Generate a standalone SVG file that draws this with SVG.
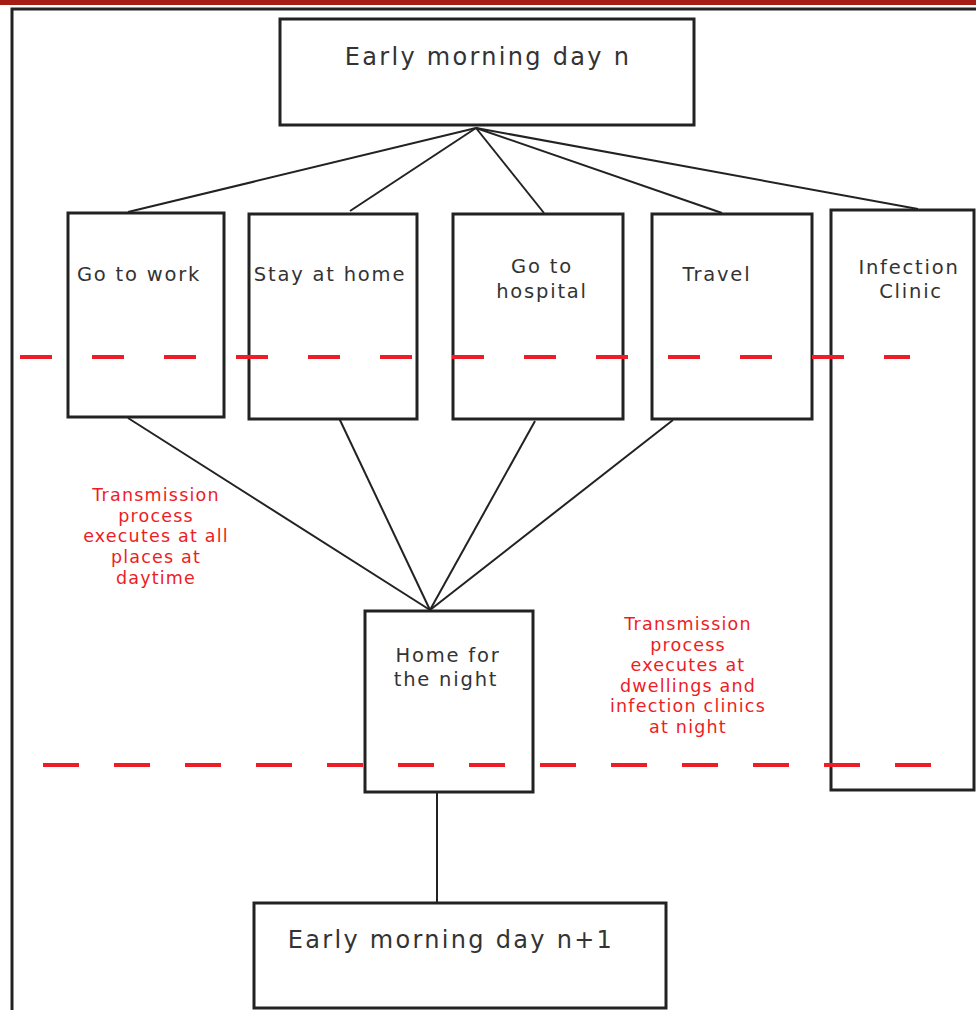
<svg xmlns="http://www.w3.org/2000/svg" width="976" height="1010" viewBox="0 0 976 1010">
  <style>
    .box { fill: #fff; stroke: #222; stroke-width: 3; }
    .lbl { font-family: "DejaVu Sans", Verdana, sans-serif; fill: #333; text-anchor: middle; }
    .big { font-size: 24px; letter-spacing: 2.3px; }
    .mid { font-size: 19.5px; letter-spacing: 1.8px; }
    .note { font-family: "DejaVu Sans", Verdana, sans-serif; font-size: 17.5px; letter-spacing: 1.2px; fill: #ee1c25; text-anchor: middle; }
    .link { fill: none; stroke: #222; stroke-width: 2; }
    .phase { fill: none; stroke: #ee1c25; stroke-width: 4; }
  </style>

  <rect x="0" y="0" width="976" height="1010" fill="#fff"/>
  <!-- header band and page frame -->
  <rect x="0" y="0" width="976" height="5" fill="#a51b16"/>
  <path d="M12 1010 V9 H976" fill="none" stroke="#222" stroke-width="3"/>

  <g id="connectors">
    <line class="link" x1="476" y1="128" x2="128" y2="212"/>
    <line class="link" x1="476" y1="128" x2="350" y2="211"/>
    <line class="link" x1="476" y1="128" x2="544" y2="213"/>
    <line class="link" x1="476" y1="128" x2="722" y2="213"/>
    <line class="link" x1="476" y1="128" x2="918" y2="209"/>
    <line class="link" x1="128" y1="418" x2="430" y2="610"/>
    <line class="link" x1="339" y1="418" x2="430" y2="610"/>
    <line class="link" x1="535" y1="421" x2="430" y2="610"/>
    <line class="link" x1="673" y1="420" x2="430" y2="610"/>
    <line class="link" x1="437" y1="792" x2="437" y2="903"/>
  </g>

  <g id="day-start">
    <rect class="box" x="280" y="19" width="414" height="106"/>
    <text class="lbl big" x="488" y="65">Early morning day n</text>
  </g>

  <g id="work">
    <rect class="box" x="68" y="213" width="156" height="204"/>
    <text class="lbl mid" x="139" y="281">Go to work</text>
  </g>

  <g id="home">
    <rect class="box" x="249" y="214" width="168" height="205"/>
    <text class="lbl mid" x="330" y="281">Stay at home</text>
  </g>

  <g id="hospital">
    <rect class="box" x="453" y="214" width="170" height="205"/>
    <text class="lbl mid" x="542" y="273">Go to</text>
    <text class="lbl mid" x="542" y="298">hospital</text>
  </g>

  <g id="travel">
    <rect class="box" x="652" y="214" width="160" height="205"/>
    <text class="lbl mid" x="717" y="281">Travel</text>
  </g>

  <g id="clinic">
    <rect class="box" x="831" y="210" width="143" height="580"/>
    <text class="lbl mid" x="909" y="274">Infection</text>
    <text class="lbl mid" x="911" y="298">Clinic</text>
  </g>

  <g id="night">
    <rect class="box" x="365" y="611" width="168" height="181"/>
    <text class="lbl mid" x="448" y="662">Home for</text>
    <text class="lbl mid" x="446" y="686">the night</text>
  </g>

  <g id="day-next">
    <rect class="box" x="254" y="903" width="412" height="105"/>
    <text class="lbl big" x="451" y="948">Early morning day n+1</text>
  </g>

  <!-- phase separators, drawn across the boxes -->
  <g id="phases">
    <line class="phase" x1="20" y1="357" x2="910" y2="357" stroke-dasharray="32 40"/>
    <line class="phase" x1="43" y1="765" x2="932" y2="765" stroke-dasharray="36 35"/>
  </g>

  <g id="day-note">
    <text class="note" x="156" y="501">Transmission</text>
    <text class="note" x="156" y="522">process</text>
    <text class="note" x="156" y="542">executes at all</text>
    <text class="note" x="156" y="563">places at</text>
    <text class="note" x="156" y="584">daytime</text>
  </g>

  <g id="night-note">
    <text class="note" x="688" y="630">Transmission</text>
    <text class="note" x="688" y="651">process</text>
    <text class="note" x="688" y="671">executes at</text>
    <text class="note" x="688" y="692">dwellings and</text>
    <text class="note" x="688" y="712">infection clinics</text>
    <text class="note" x="688" y="733">at night</text>
  </g>
</svg>
